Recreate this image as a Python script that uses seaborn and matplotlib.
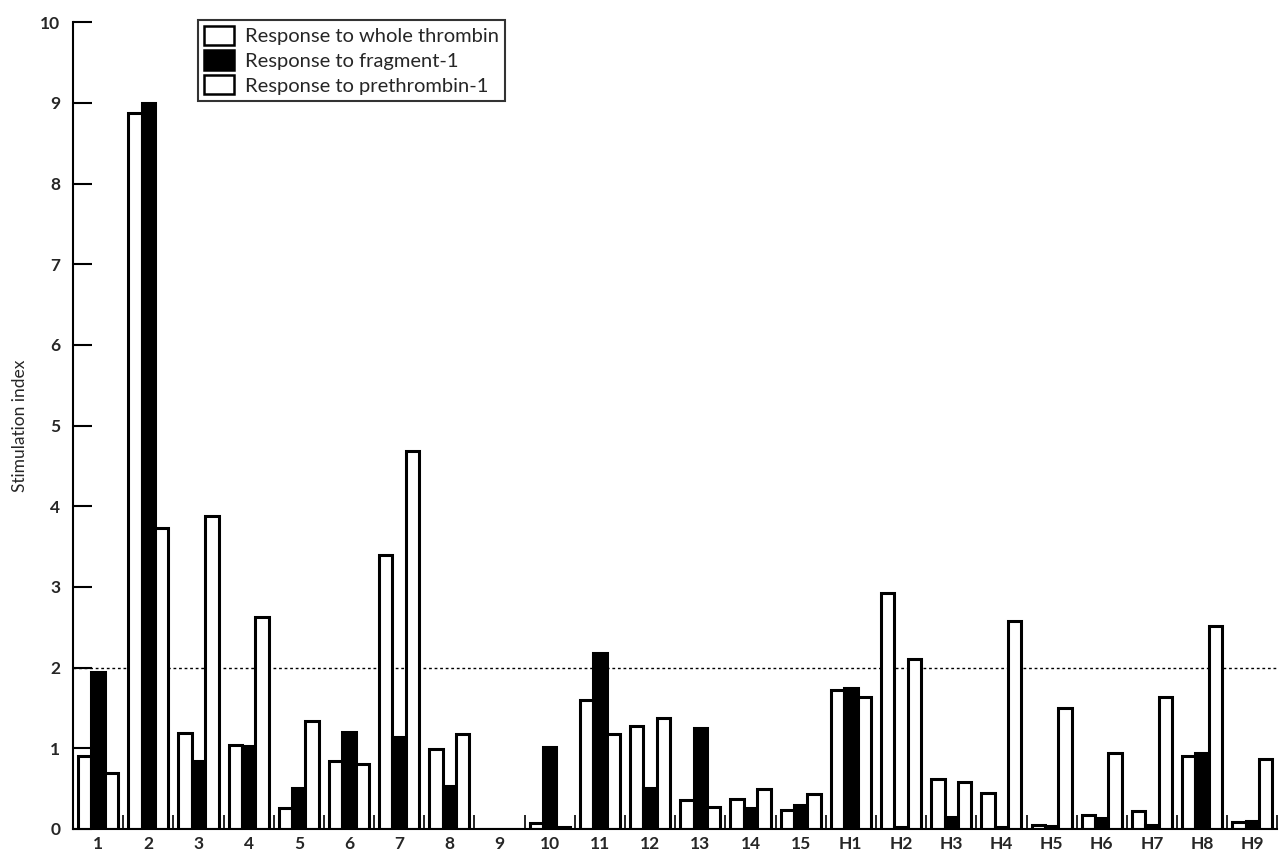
import matplotlib
matplotlib.use("Agg")
import matplotlib.pyplot as plt
import matplotlib.patches as mpatches
import numpy as np
import pandas as pd
import seaborn as sns

# Subjects: 15 patients followed by 9 healthy controls
groups = [str(i) for i in range(1, 16)] + [f"H{i}" for i in range(1, 10)]

whole_thrombin = [0.90, 8.87, 1.19, 1.04, 0.26, 0.84, 3.39, 0.99, 0.0, 0.07, 1.60, 1.28,
                  0.36, 0.37, 0.23, 1.72, 2.93, 0.62, 0.45, 0.05, 0.17, 0.22, 0.90, 0.09]
fragment_1 = [1.95, 9.00, 0.84, 1.03, 0.51, 1.20, 1.14, 0.53, 0.0, 1.02, 2.18, 0.51,
              1.25, 0.26, 0.29, 1.75, 0.02, 0.15, 0.02, 0.03, 0.14, 0.05, 0.94, 0.10]
prethrombin_1 = [0.69, 3.73, 3.88, 2.63, 1.34, 0.80, 4.69, 1.17, 0.0, 0.02, 1.18, 1.37,
                 0.27, 0.49, 0.43, 1.64, 2.10, 0.58, 2.58, 1.50, 0.94, 1.64, 2.52, 0.86]

series_names = ["Response to whole thrombin", "Response to fragment-1",
                "Response to prethrombin-1"]
series_colors = ["white", "black", "white"]

df = pd.DataFrame({
    "group": groups * 3,
    "series": np.repeat(series_names, len(groups)),
    "value": whole_thrombin + fragment_1 + prethrombin_1,
})

sns.set_theme(style="white")
plt.rcParams["font.family"] = ["Lato", "DejaVu Sans"]

fig = plt.figure(figsize=(12.8, 8.58), dpi=100)
ax = fig.add_axes([0.057, 0.034, 0.941, 0.940])

sns.barplot(data=df, x="group", y="value", hue="series", order=groups,
            hue_order=series_names, palette=series_colors, edgecolor="black",
            linewidth=2.2, errorbar=None, width=0.8, ax=ax, legend=False)

# threshold line at a stimulation index of 2
ax.axhline(2, color="black", lw=1.0, ls=(0, (2, 2)), zorder=0.5)

ax.set_xlim(-0.5, len(groups) - 0.5)
ax.set_ylim(0, 10)
ax.set_yticks(range(0, 11))
ax.set_xlabel("")
ax.set_ylabel("Stimulation index", fontsize=12.5)
ax.yaxis.set_label_coords(-0.037, 0.5)

for side in ["top", "right"]:
    ax.spines[side].set_visible(False)
for side in ["left", "bottom"]:
    ax.spines[side].set_color("black")
    ax.spines[side].set_linewidth(1.5)

ax.tick_params(axis="y", direction="in", length=14, width=1.5, color="black",
               labelsize=12.5, pad=9, left=True)
ax.tick_params(axis="x", which="major", length=0, labelsize=12.5, pad=5)
# short separators between subject groups
ax.set_xticks(np.arange(0.5, len(groups), 1.0), minor=True)
ax.tick_params(axis="x", which="minor", direction="in", length=10, width=1.2,
               color="black", bottom=True)
for lbl in ax.get_xticklabels() + ax.get_yticklabels():
    lbl.set_fontweight("bold")

handles = [mpatches.Patch(facecolor=c, edgecolor="black", linewidth=1.8)
           for c in series_colors]
leg = ax.legend(handles, series_names, loc="upper left",
                bbox_to_anchor=(0.104, 1.003), borderaxespad=0, fontsize=14.5,
                frameon=True, fancybox=False, handlelength=1.5, handleheight=1.1,
                handletextpad=0.5, labelspacing=0.25, borderpad=0.3)
leg.get_frame().set_edgecolor("black")
leg.get_frame().set_linewidth(1.5)

fig.savefig("out.png", dpi=100, facecolor="white")
